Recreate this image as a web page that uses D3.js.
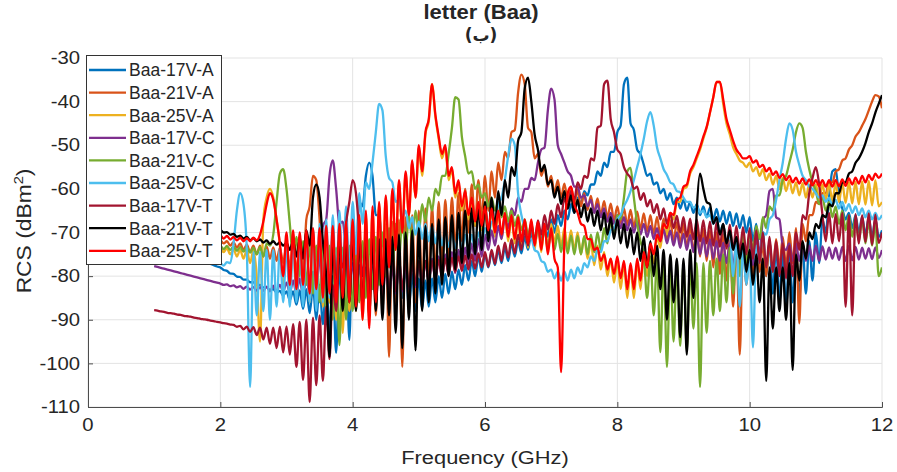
<!DOCTYPE html>
<html><head><meta charset="utf-8">
<script src="https://cdn.jsdelivr.net/npm/d3@7/dist/d3.min.js"></script>
<style>
body{margin:0;background:#fff}
text{font-family:"Liberation Sans",Arial,"DejaVu Sans",sans-serif;fill:#262626}
</style></head>
<body><svg id="chart" width="897" height="472"></svg>
<script>
// ---- data (RCS in dBm^2, sampled every 0.05 GHz from 1 to 12 GHz) ----
const freqStart = 1, freqStep = 0.05;
const xTicks = [0, 2, 4, 6, 8, 10, 12];
const yTicks = [-110, -100, -90, -80, -70, -60, -50, -40, -30];
const seriesNames = ["Baa-17V-A","Baa-21V-A","Baa-25V-A","Baa-17V-C","Baa-21V-C","Baa-25V-C","Baa-17V-T","Baa-21V-T","Baa-25V-T"];
const seriesColors = ["#0072BD","#D95319","#EDB120","#7E2F8E","#77AC30","#4DBEEE","#A2142F","#000000","#FF0000"];

const baa17VA = [-72.5,-72.8,-73.1,-73.4,-73.6,-73.9,-74.2,-74.5,-74.8,-75,-75.3,-75.6,-75.9,-76.2,-76.4,-76.7,-77,-77.2,-77.5,-77.8,
-78,-78.6,-78.8,-79.4,-79.5,-80.1,-80.2,-80.8,-80.8,-81.4,-81.4,-82,-82,-82.6,-82.5,-83.2,-83,-83.8,-83.4,-84.5,
-83.5,-85.5,-83.5,-86.5,-83.3,-87.5,-83,-88.5,-82.5,-90,-82,-91,-81,-93,-80,-97.6,-78,-88,-74,-94.6,
-68,-75,-63,-64,-57,-54,-57,-66,-66,-73,-71,-78,-74,-82,-76,-85,-78,-87,-79.5,-88,
-80.5,-87.5,-81,-87,-80.5,-86,-80,-85,-79.5,-84,-79,-83,-78.5,-82,-77.5,-81,-76.5,-80,-75.5,-79,
-75,-78,-74.5,-77.5,-74,-77,-73.5,-76.5,-72.5,-75.5,-72,-74.8,-71,-74,-70,-73,-69,-72,-68,-71,
-67,-70,-66,-68.5,-65,-67,-63.5,-65.5,-62,-63.5,-60.5,-61.5,-59,-59,-56,-57,-54,-55,-51.5,-51.5,
-47,-45.5,-36,-34.5,-45,-46.5,-51,-52,-54.5,-57,-56.5,-59,-58.5,-61,-60,-62.5,-61,-63.5,-62,-64.5,
-62.5,-65,-63,-65.5,-63.5,-66,-64,-66.5,-64.3,-67,-64.6,-67.5,-65,-68,-65.3,-68.5,-65.6,-69,-66,-70,
-66.5,-72,-68,-76,-70,-80,-72,-84,-73,-86,-74,-87.4,-74,-86,-74,-85,-73,-84,-72,-81,
-70,-77,-67,-70,-62,-56,-55.5,-62,-64.5,-67,-65.5,-69,-66,-70,-66.4,-70.5,-66.6,-71,-67,-71,-69.5];

const baa21VA = [-69,-69.1,-69.3,-69.4,-69.5,-69.7,-69.8,-69.9,-70.1,-70.2,-70.3,-70.5,-70.6,-70.7,-70.9,-71,-71.1,-71.3,-71.4,-71.5,
-71.7,-72.5,-72,-73,-72.2,-73.5,-72.5,-74,-72.7,-74.5,-73,-75,-73,-75.5,-73.2,-76,-73.4,-76.5,-73.5,-77,
-73,-78,-72.5,-79,-71,-80,-67,-64,-57,-58,-67,-80,-70,-86,-70,-85,-69.5,-87,-69.5,-88,
-69,-86,-69,-88,-68.5,-87,-68.5,-89,-68,-88,-68,-98.5,-67.5,-88,-67,-100.8,-66.5,-87,-66,-86,
-65,-84,-64.5,-82,-64,-80,-63,-78,-62.5,-76,-62,-74,-61,-72,-60,-70,-59,-68.5,-58,-67,
-57,-65,-56,-62,-54,-58,-51.5,-53,-47,-46.5,-38,-33.8,-36,-46,-47,-53,-52,-57,-55,-59.5,
-57,-61,-58,-62,-58.8,-62.8,-59.5,-63.5,-60.2,-64,-61,-64.8,-61.6,-65.4,-62.2,-66,-62.8,-66.6,-63.4,-67.2,
-64,-67.8,-64.4,-68.3,-64.8,-68.8,-65.2,-69.3,-65.6,-69.8,-66,-70.3,-66.4,-70.8,-66.8,-71.5,-67.2,-72,-67.6,-72.6,
-68,-73.5,-68.4,-74.5,-68.8,-75.5,-69.2,-76.5,-69.6,-78,-70,-79.5,-70.4,-81,-70.8,-87,-71,-98,-71.5,-82,
-72,-80,-72.5,-79,-72.5,-80,-72,-79,-71.5,-78,-71,-78,-70,-77,-69,-90.8,-68,-72,-66,-66,
-63,-63.5,-61,-61,-58.5,-58.5,-56,-55.5,-53.5,-53,-51,-50,-48,-47,-45.5,-44,-42,-40,-38.5,-38.8,-41.5];

const baa25VA = [-71,-71.1,-71.3,-71.4,-71.5,-71.7,-71.8,-71.9,-72.1,-72.2,-72.3,-72.5,-72.6,-72.7,-72.9,-73,-73.1,-73.2,-73.3,-73.4,
-73.5,-74.5,-73.6,-75,-73.8,-75.5,-74,-76,-74,-77,-74,-80,-95,-67,-62,-60,-62,-67,-73,-82,
-71,-84,-70.5,-85,-71,-84,-70.5,-86,-70,-85,-70,-87,-69.5,-86,-69.5,-90,-69,-93,-68.5,-88,
-68,-88,-67,-90,-66,-90,-65,-86,-63.5,-82,-62,-78,-60.5,-74,-58.5,-70,-56.5,-66,-54,-62,
-50.5,-57,-47.5,-44.5,-36,-43.5,-48.5,-53,-50.5,-58,-55.5,-62,-58.5,-65,-61,-67,-62.5,-68.5,-63.5,-69.5,
-64.5,-70.5,-65,-71,-65.5,-71.5,-66,-72,-66.5,-72.5,-67,-73,-67.3,-73.5,-67.5,-74,-67.8,-74.5,-68,-74.5,
-68,-72.5,-68.5,-73,-69,-73.5,-69.5,-74,-70,-75,-71,-76,-72,-77.5,-73,-78.5,-74.5,-80,-76,-81.5,
-76.5,-83,-77,-85,-77.5,-85,-76.5,-83,-75,-80,-73,-77,-71,-73.5,-68.5,-70.5,-66,-67,-63,-63,
-60,-59.5,-56.5,-55,-53,-51,-48.5,-46,-42.5,-39,-35.5,-35.5,-40.5,-45,-47.5,-50.5,-52,-53.5,-54,-55,
-54,-56,-55,-57,-55.5,-58,-56.5,-59,-57,-60,-57.5,-60.5,-58,-61,-58.5,-61.5,-58.7,-62,-59,-62,
-59,-62.3,-59,-62.5,-59,-62.7,-58.8,-63,-58.7,-63.2,-58.5,-63.3,-58.4,-63.5,-58.3,-63.6,-58.2,-63.8,-58,-64,-63];

const baa17VC = [-77.7,-77.9,-78.1,-78.3,-78.5,-78.7,-78.9,-79.1,-79.3,-79.5,-79.7,-79.9,-80.1,-80.3,-80.5,-80.7,-80.9,-81.1,-81.3,-81.5,
-81.7,-82,-81.9,-82.3,-82.1,-82.6,-82.3,-82.9,-82.4,-83.1,-82.5,-83.3,-82.5,-83.4,-82.4,-83.5,-82.2,-83.5,-82,-83.5,
-81.5,-83.8,-81,-84,-80.5,-84.5,-80,-84,-79,-82,-76,-68.5,-67,-57,-53.5,-60,-68,-67.5,-75,-82,
-77,-84,-77.5,-85,-78,-85,-78,-85.5,-78,-85,-78,-84.5,-78,-84,-78,-83.5,-77.5,-83,-77.5,-82.5,
-77,-82,-76.5,-81.5,-76,-81,-75.5,-80.5,-75,-80,-74.5,-79.3,-74,-78.5,-73.5,-77.5,-72.5,-76.5,-71.5,-75.5,
-70.5,-74,-69.5,-73,-68.5,-71.5,-66.5,-69,-64.5,-66,-62,-63,-60,-60,-57.5,-58,-54,-51,-50.5,-42,
-37,-39.5,-50,-52,-54,-56,-57,-59.5,-59.5,-62,-61.5,-64,-62.5,-65.5,-63.5,-66.5,-64.5,-67.5,-65.5,-68,
-66,-69,-66.5,-69.5,-67,-70,-67.5,-70.5,-68,-71,-68.5,-71.5,-69,-72,-69.3,-72.5,-69.6,-73,-70,-73.5,
-70.3,-74,-70.6,-74.5,-71,-75,-71.3,-75.5,-71.6,-76,-72,-76.5,-72.3,-77,-72.5,-77.5,-72.5,-78,-72.3,-78,
-72,-77.5,-71,-75,-67,-66,-60.5,-60,-66.5,-67,-73,-74,-72.5,-76.5,-72.5,-76.5,-72.5,-76.5,-73,-76.5,
-73,-76.5,-73.2,-76.2,-73.4,-76,-73.5,-76.3,-73.3,-76.5,-73.1,-76.4,-73.3,-76.2,-73.5,-76,-73.6,-76.1,-73.4,-75.8,-74];

const baa21VC = [-70.5,-70.6,-70.8,-70.9,-71,-71.2,-71.3,-71.4,-71.6,-71.7,-71.8,-72,-72.1,-72.2,-72.3,-72.5,-72.6,-72.7,-72.8,-72.9,
-73,-73.8,-73.1,-74,-73.2,-74.2,-73.3,-74.4,-73.4,-74.6,-73.5,-75,-73.3,-75.5,-72.5,-73,-70.5,-63,-56.5,-55.5,
-60,-68,-76,-71,-80,-72,-82,-72.5,-84,-73,-86,-73,-88,-73,-90,-73.5,-95.8,-73.5,-90,-73,
-88,-72.5,-86,-72,-85,-71.5,-83,-71,-82,-70,-80,-69,-78,-68,-76,-67,-74,-66,-72,-65,
-70,-63.5,-67.5,-62,-65,-60,-61.5,-57,-57,-52,-46,-39,-39.5,-48,-52.5,-56.5,-56,-60,-59,-62,
-61,-64,-62,-65,-63,-66.5,-64,-67.5,-65,-68.5,-66,-69.5,-67,-70.5,-68,-71.5,-68.8,-72.5,-69.5,-73.5,
-70,-74,-70.3,-74.5,-70.5,-74.8,-70.7,-75,-70.8,-75,-70.8,-75,-70.5,-74.5,-70,-74,-69,-72.5,-67.5,-70,
-66,-67,-62,-56,-55.2,-62,-68,-72,-75,-85,-75.5,-89,-76,-97.4,-76,-100.8,-76.5,-95,-77,-96,
-77,-97,-77,-92,-77,-105.4,-77,-93,-76.5,-89,-76,-88,-75,-86,-73.5,-84,-72,-80,-70,-77,
-70,-74,-68.5,-71.5,-66.5,-69,-64,-65,-61.5,-61.5,-58,-57,-54,-51,-47,-45,-46,-51.5,-55.5,-58.5,
-60.5,-63.5,-62,-65,-63,-66.5,-64,-68,-65,-69.5,-66,-71,-66.5,-72,-67,-72.5,-67.5,-73,-68,-80,-78];

const baa25VC = [-73.5,-73.7,-73.8,-74,-74.2,-74.3,-74.5,-74.7,-74.8,-75,-75.2,-75.3,-75.5,-75.7,-75.8,-76,-76.2,-76.3,-76.5,-76.7,
-77,-77.6,-76.8,-77,-72.5,-65,-61,-63.5,-74,-105.4,-74.5,-89,-74.5,-88,-74,-90,-74,-87,-73.5,-86,
-73,-87,-72,-86,-71,-87,-70,-86,-69,-88,-68,-86,-67,-85,-66,-84,-65,-82,-64,-80,
-63,-75,-61,-68,-58.5,-60,-54,-47,-40.5,-42,-52.5,-57.5,-58.5,-63,-62.5,-66.5,-65,-69,-66.5,-70.5,
-67.5,-71.5,-68,-72,-68.5,-72.5,-69,-73,-69.5,-73.3,-70,-73.6,-70.3,-74,-70.5,-74.2,-70.5,-74,-70,-72.5,
-69,-71,-67.5,-68,-63.5,-62,-58,-52.5,-48.5,-50,-61,-66,-69,-71.5,-71.5,-74,-74.5,-76.5,-77,-79,
-78.5,-80.5,-79,-81,-79,-81,-78.5,-80.5,-78,-79.5,-77,-78,-75.5,-76.5,-74,-74.5,-72,-72,-69.5,-69,
-67,-66,-64,-62.5,-60.5,-58,-55,-52,-48.5,-44.5,-42.4,-45.5,-50.5,-53,-55.5,-56.8,-58.5,-59,-60.5,-60.8,
-62,-63,-63,-64.3,-64,-65.5,-65,-66.5,-66,-68,-67,-70,-68,-73,-70,-80,-72,-87,-74,-82,
-75,-96.3,-73,-77,-70,-70.5,-67,-66,-62.5,-58,-54,-48.5,-45,-46.5,-51.5,-54.5,-57,-58,-59.5,-60,
-61,-62,-61.5,-63,-62,-63.8,-62.5,-64.5,-63,-65,-63.5,-65.5,-64,-66,-64.5,-66.5,-65,-67,-65.5,-67,-66];

const baa17VT = [-87.8,-87.9,-88.1,-88.2,-88.4,-88.5,-88.6,-88.8,-88.9,-89.1,-89.2,-89.3,-89.5,-89.6,-89.8,-89.9,-90,-90.2,-90.3,-90.5,
-90.6,-90.8,-90.9,-91.1,-91.2,-91.6,-91.4,-92.2,-91.6,-92.8,-91.7,-93.5,-91.8,-94.5,-91.8,-95.5,-91.8,-96.5,-91.6,-97.5,
-91.5,-98,-91,-100.8,-90.5,-103.8,-90,-108.9,-89.5,-105,-89,-104,-87,-99,-82,-88,-76,-78,-68,-63,
-58,-61,-70,-80,-73,-84,-74,-85,-75,-85,-75.5,-84,-76,-83.5,-76,-83,-76.5,-82.5,-76.5,-82,
-76.5,-81.5,-76.5,-81,-76.5,-80.5,-76.3,-80,-76,-79.5,-75.8,-79,-75.5,-78.8,-75.3,-78.5,-75,-78.3,-74.8,-78,
-74.5,-77.8,-74,-77.2,-73,-76.5,-72.3,-75.7,-71.5,-74.8,-70.5,-74,-69.5,-73,-68.5,-72,-67.2,-70.5,-66,-69.3,
-65,-68,-63.5,-66.5,-62,-64.5,-60.5,-62.5,-58.5,-60,-57,-57.5,-53,-53.5,-46,-45.5,-36,-35.2,-44,-47,
-51,-52,-55,-56.5,-57.5,-60,-59.5,-62.5,-61,-64,-62.5,-65.5,-63.5,-67,-64.5,-68,-65.5,-69,-66.2,-70,
-66.5,-71,-66.8,-71.5,-67,-72,-67.2,-72.5,-67.5,-73,-67.7,-73.3,-68,-73.7,-68.2,-74,-68.5,-74.5,-68.8,-75,
-69,-76,-69.5,-77,-70,-78,-71,-79,-72,-80,-72.5,-80.5,-73,-80,-70,-74,-66,-67,-61,-57.5,
-55,-59,-66,-72,-65.5,-72.5,-65.8,-72,-65.5,-87,-66,-89,-65.8,-72.5,-66,-72.2,-65.6,-72.8,-65.9,-72.4,-70];

const baa21VT = [-67,-67.1,-67.2,-67.4,-67.5,-67.6,-67.7,-67.8,-68,-68.1,-68.2,-68.3,-68.4,-68.5,-68.7,-68.8,-68.9,-69,-69.1,-69.2,
-69.4,-70,-69.9,-70.5,-70.3,-71,-70.7,-71.4,-71,-71.8,-71.3,-72,-71.6,-72.3,-71.8,-72.6,-72,-72.8,-72.2,-73,
-72.3,-74,-72,-75.5,-71.5,-76,-69.5,-73,-62,-59,-62,-72,-80,-98.5,-72,-84,-71,-88,-70.5,-86,
-70.5,-88,-71,-87,-71,-89,-71.5,-88,-71.5,-90,-71.5,-89,-71,-93,-70.5,-96.5,-70,-90,-69.5,-97,
-69,-88,-68.5,-86,-68,-84,-67,-82,-66.5,-80,-66,-78.5,-65.5,-77,-65,-76,-64.5,-75,-64,-74,
-63,-72,-62,-69,-60.5,-66,-58,-62,-55,-57,-49,-47,-37,-34.5,-40,-47.5,-51,-56,-54.5,-59,
-58,-62,-59.5,-63.5,-60.5,-64.5,-61.5,-65.5,-62.5,-66.5,-63.5,-67.5,-64.5,-68.5,-65,-69.5,-65.5,-70.5,-66.5,-71.5,
-67,-72.5,-68,-73.5,-69,-75,-70,-76.5,-71,-78,-72,-80,-73,-83,-74,-90,-75,-86,-76,-94,
-76,-98,-74,-85,-65,-56.5,-60,-63,-63.5,-68,-66.5,-70.5,-68,-72.5,-69.5,-74,-71,-76,-72.5,-79,
-74,-82,-75,-86,-76,-104,-78,-92,-78,-88,-78,-90,-77,-101.5,-75,-81,-72,-76,-70,-71.5,
-68,-69,-66,-66.5,-63.5,-64,-61,-61,-58.5,-58.5,-56.5,-56,-54,-53,-51.5,-49.5,-47,-45,-42.5,-40.5,-38.5];

const baa25VT = [-68,-68.1,-68.3,-68.4,-68.5,-68.7,-68.8,-68.9,-69.1,-69.2,-69.3,-69.5,-69.6,-69.7,-69.9,-70,-70.1,-70.3,-70.4,-70.5,
-70.6,-71.4,-70.8,-71.6,-71,-71.8,-71.2,-72,-71.3,-72,-71.2,-71.8,-70.5,-67.5,-63.5,-61,-62.5,-67,-72.5,-80,
-70,-82,-69.5,-83,-70,-82,-69.5,-84,-69,-83,-69,-85,-68.5,-84,-68.5,-86,-68,-85,-67.5,-86,
-67,-87,-66,-90,-65,-92,-64,-86,-63,-82,-61.5,-78,-60,-74,-58,-70,-56,-66,-53.5,-62,
-50,-56,-47,-44,-36,-43,-48,-52,-50,-57,-55,-61,-58,-64,-60.5,-66,-62,-67.5,-63,-68.5,
-64,-69.5,-64.5,-70,-65,-70.5,-65.5,-71,-66,-71.5,-66.5,-72,-67,-72.5,-67,-73,-67.5,-74,-68,-75,
-69,-76,-78,-102,-72,-61,-59.5,-63.5,-65.5,-68,-68.5,-71.5,-71.5,-74,-73.5,-76.5,-75,-78.5,-76,-79.5,
-75.5,-80.5,-76.5,-83,-77,-83,-76,-81,-74.5,-78,-72.5,-75,-70.5,-72,-68,-69,-65.5,-66,-62.5,-62,
-59.5,-59,-56,-54.5,-52.5,-50.5,-48,-45.8,-42.5,-39,-35.5,-35.5,-39.5,-44,-46.5,-49,-51,-52,-53,-53,
-52.5,-54,-53.5,-55,-54.5,-56,-55.2,-56.8,-56,-57.5,-56.6,-58,-57,-58.5,-57.4,-58.8,-57.6,-59,-57.8,-59.2,
-58,-59.4,-58,-59.5,-58,-59.5,-58,-59.4,-57.8,-59.3,-57.6,-59,-57.4,-58.8,-57,-58.5,-56.8,-58,-56.5,-57.5,-56.5];

const seriesValues = [baa17VA, baa21VA, baa25VA, baa17VC, baa21VC, baa25VC, baa17VT, baa21VT, baa25VT];

// ---- drawing ----
const svg = d3.select("#chart");
const L = 88, R = 882, T = 58, B = 407;
const x = d3.scaleLinear().domain([0, 12]).range([L, R]);
const y = d3.scaleLinear().domain([-110, -30]).range([B, T]);
const SX = 1.16; // horizontal stretch of the reference's axis fonts

svg.append("rect").attr("width", 897).attr("height", 472).attr("fill", "#fff");

// grid
const grid = svg.append("g");
grid.selectAll("line.gx").data(xTicks).enter().append("line")
  .attr("x1", d => x(d)).attr("x2", d => x(d)).attr("y1", T).attr("y2", B)
  .attr("stroke", "#e3e3e3").attr("stroke-width", 1);
grid.selectAll("line.gy").data(yTicks).enter().append("line")
  .attr("x1", L).attr("x2", R).attr("y1", d => y(d)).attr("y2", d => y(d))
  .attr("stroke", "#e3e3e3").attr("stroke-width", 1);

// clip
svg.append("clipPath").attr("id", "clip").append("rect")
  .attr("x", L).attr("y", T - 2).attr("width", R - L).attr("height", B - T + 2);

const line = d3.line()
  .x((d, i) => x(freqStart + i * freqStep))
  .y(d => y(d))
  .curve(d3.curveMonotoneX);

const plot = svg.append("g").attr("clip-path", "url(#clip)");
seriesValues.forEach((vals, k) => {
  plot.append("path").datum(vals)
    .attr("d", line)
    .attr("fill", "none")
    .attr("stroke", seriesColors[k])
    .attr("stroke-width", 2.3)
    .attr("stroke-linejoin", "round");
});

// axes (ticks + axis lines from d3, labels drawn below)
const xAxis = d3.axisBottom(x).tickValues(xTicks).tickSize(-5).tickFormat("");
const yAxis = d3.axisLeft(y).tickValues(yTicks).tickSize(-5).tickFormat("");
const gx = svg.append("g").attr("transform", `translate(0,${B})`).call(xAxis);
const gy = svg.append("g").attr("transform", `translate(${L},0)`).call(yAxis);
[gx, gy].forEach(g => {
  g.select(".domain").attr("stroke", "#4d4d4d").attr("stroke-width", 1);
  g.selectAll(".tick line").attr("stroke", "#4d4d4d");
});
svg.append("g").selectAll("text").data(xTicks).enter().append("text")
  .attr("transform", d => `translate(${x(d)},431) scale(${SX},1)`)
  .attr("text-anchor", "middle").attr("font-size", 17.5).text(d => d);
svg.append("g").selectAll("text").data(yTicks).enter().append("text")
  .attr("transform", d => `translate(80,${y(d) + 6.2}) scale(${SX},1)`)
  .attr("text-anchor", "end").attr("font-size", 17.5).text(d => "-" + Math.abs(d));

// axis titles
svg.append("text").attr("transform", `translate(${(L + R) / 2},464) scale(1.15,1)`)
  .attr("text-anchor", "middle").attr("font-size", 19).text("Frequency (GHz)");
const yl = svg.append("text").attr("transform", "translate(31,231) rotate(-90) scale(1.17,1)")
  .attr("text-anchor", "middle").attr("font-size", 19.5);
yl.append("tspan").text("RCS (dBm");
yl.append("tspan").attr("font-size", 12.5).attr("dy", -8).text("2");
yl.append("tspan").attr("dy", 8).text(")");

// title
svg.append("text").attr("transform", "translate(481,19) scale(1.13,1)").attr("text-anchor", "middle")
  .attr("font-size", 19.5).attr("font-weight", "bold").attr("fill", "#000").text("letter (Baa)");
svg.append("text").attr("transform", "translate(481,41)").attr("text-anchor", "middle")
  .attr("font-size", 17).attr("font-weight", "bold").attr("fill", "#000")
  .style("font-family", '"DejaVu Sans", sans-serif').text("(ب)");

// legend
const lg = svg.append("g");
lg.append("rect").attr("x", 86.5).attr("y", 55.5).attr("width", 135).attr("height", 209)
  .attr("fill", "#fff").attr("stroke", "#333").attr("stroke-width", 1);
seriesNames.forEach((name, k) => {
  const cy = 70 + k * 22.6;
  lg.append("line").attr("x1", 89).attr("x2", 126).attr("y1", cy).attr("y2", cy)
    .attr("stroke", seriesColors[k]).attr("stroke-width", 2.3);
  lg.append("text").attr("x", 129).attr("y", cy).attr("dy", "0.36em")
    .attr("font-size", 17.5).attr("fill", "#000").text(name);
});
</script></body></html>
